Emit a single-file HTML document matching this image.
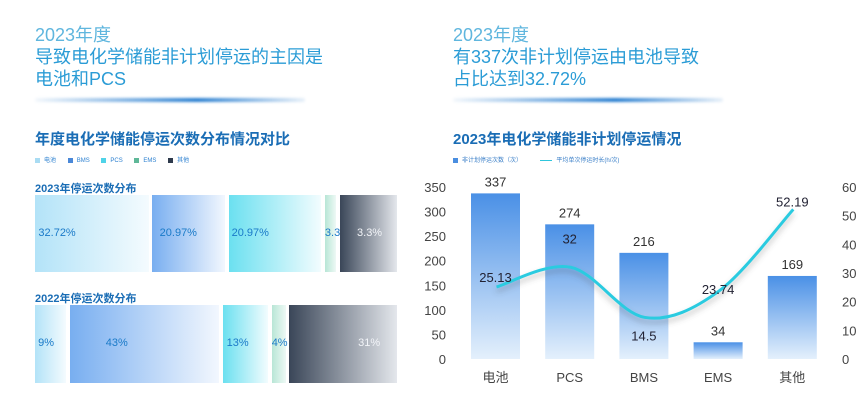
<!DOCTYPE html>
<html><head><meta charset="utf-8"><style>
body{margin:0;width:865px;height:405px;background:#fff;font-family:"Liberation Sans","Noto Sans CJK SC",sans-serif;overflow:hidden;position:relative}
.a{position:absolute;white-space:nowrap}
.h1{font-size:18px;color:#5fb6de;line-height:22px}
.h2{font-size:18px;color:#2b9cd6;line-height:22px}
.glow{position:absolute;height:4px;border-radius:2px;background:linear-gradient(90deg,rgba(40,120,200,0.05),#2a7fd0 60%,rgba(40,120,200,0.1));filter:blur(1.2px)}
.st{font-size:15px;font-weight:bold;color:#1a6db5}
.lg{font-size:6px;color:#2a7fd0}
.sw{display:inline-block;width:5px;height:5px;margin-right:4px;vertical-align:middle}
.rt{font-size:11px;font-weight:bold;color:#1a6db5}
</style></head><body>
<div class="a h1" style="left:35px;top:24px">2023年度</div>
<div class="a h2" style="left:35px;top:46px">导致电化学储能非计划停运的主因是</div>
<div class="a h2" style="left:35px;top:68px">电池和PCS</div>
<div class="glow" style="left:35px;top:98px;width:270px"></div>
<div class="a h1" style="left:453px;top:24px">2023年度</div>
<div class="a h2" style="left:453px;top:46px">有337次非计划停运由电池导致</div>
<div class="a h2" style="left:453px;top:68px">占比达到32.72%</div>
<div class="glow" style="left:453px;top:98px;width:270px"></div>

<div class="a st" style="left:35px;top:128px">年度电化学储能停运次数分布情况对比</div>
<div class="a lg" style="left:35px;top:155px">
<span><i class="sw" style="background:#a9dcf3"></i>电池</span>&nbsp;&nbsp;&nbsp;&nbsp;&nbsp;&nbsp;
<span><i class="sw" style="background:#4a88d8"></i>BMS</span>&nbsp;&nbsp;&nbsp;&nbsp;&nbsp;&nbsp;
<span><i class="sw" style="background:#4fd3e8"></i>PCS</span>&nbsp;&nbsp;&nbsp;&nbsp;&nbsp;&nbsp;
<span><i class="sw" style="background:#5fb898"></i>EMS</span>&nbsp;&nbsp;&nbsp;&nbsp;&nbsp;&nbsp;
<span><i class="sw" style="background:#2e3a4c"></i>其他</span></div>
<div class="a rt" style="left:35px;top:180px">2023年停运次数分布</div>
<div class="a rt" style="left:35px;top:290px">2022年停运次数分布</div>
<div id="stack" class="a" style="left:0;top:0;width:420px;height:405px"></div>

<div class="a st" style="left:453px;top:128px">2023年电化学储能非计划停运情况</div>
<div class="a lg" style="left:453px;top:155px;color:#3a7fc8">
<span><i class="sw" style="background:#4a8ee0"></i>非计划停运次数（次）</span>&nbsp;&nbsp;&nbsp;&nbsp;&nbsp;&nbsp;&nbsp;&nbsp;&nbsp;&nbsp;
<span><i class="sw" style="background:#2fc6dc;height:1.5px;width:12px"></i>平均单次停运时长(h/次)</span></div>
<svg id="bar" class="a" style="left:0;top:0" width="865" height="405">
<defs>
<linearGradient id="bg" x1="0" y1="0" x2="0" y2="1"><stop offset="0" stop-color="#4a90e6"/><stop offset="1" stop-color="#e4f0fc"/></linearGradient>
<filter id="sh"><feDropShadow dx="0" dy="4" stdDeviation="3" flood-color="#555" flood-opacity="0.35"/></filter>
</defs>
</svg>
<script>
// stacked rows (2023 segment widths follow outage counts: 电池, BMS, PCS, EMS, 其他)
var stackCats=["电池","BMS","PCS","EMS","其他"];
var share2023=[337,216,274,34,169];
var share2022=[9,43,13,4,31];
var lbl2023=["32.72%","20.97%","20.97%","3.3%","3.3%"];
var lbl2022=["9%","43%","13%","4%","31%"];
var grads=[["#b3e3f8","#f4fbfe"],["#78aef0","#f2f7fe"],["#6be0f0","#f2fcfe"],["#b8e6d6","#eef9f5"],["#3a4658","#e4e7ec"]];
function drawRow(vals,labels,top,h,name,offs){
  var st=document.getElementById('stack');
  var x0=35,x1=397,gap=3.5,sum=vals.reduce(function(a,b){return a+b},0);
  var avail=x1-x0-gap*(vals.length-1),x=x0;
  vals.forEach(function(v,i){
    var w=v/sum*avail;
    var d=document.createElement('div');
    
    
    d.className='a';
    d.style.cssText='left:'+x+'px;top:'+top+'px;width:'+w+'px;height:'+h+'px;background:linear-gradient(90deg,'+grads[i][0]+','+grads[i][1]+');';
    st.appendChild(d);
    var t=document.createElement('div');
    
    
    t.className='a';t.textContent=labels[i];
    var cx=x+w*offs[i];
    t.style.cssText='left:'+cx+'px;top:'+(top+h/2-7)+'px;font-size:11px;color:'+(i==4&&w>40?'#f2f4f8':(i==4?'#333':'#1a7ac8'));
    st.appendChild(t);
    x+=w+gap;
  });
}
drawRow(share2023,lbl2023,195,77,'row-2023',[0.03,0.1,0.03,0.0,0.3]);
drawRow(share2022,lbl2022,305,78,'row-2022',[0.1,0.24,0.08,0.0,0.64]);

// bar + line chart
var cats=["电池","PCS","BMS","EMS","其他"];
var counts=[337,274,216,34,169];
var durations=[25.13,32,14.5,23.74,52.19];
var leftTicks=[0,50,100,150,200,250,300,350];
var rightTicks=[0,10,20,30,40,50,60];
var svg=document.getElementById('bar'),NS="http://www.w3.org/2000/svg";
function yL(v){return 359-v/350*172;}
function yR(v){return 359-v/60*172;}
function xC(i){return 495.5+i*74.2;}
function el(tag,attrs,txt){var e=document.createElementNS(NS,tag);for(var k in attrs)e.setAttribute(k,attrs[k]);if(txt!=null)e.textContent=txt;svg.appendChild(e);return e;}
leftTicks.forEach(function(v){var t=el('text',{x:446,y:yL(v)+5,'text-anchor':'end','font-size':13,fill:'#444'},v);

});
rightTicks.forEach(function(v){var t=el('text',{x:842,y:yR(v)+5,'font-size':13,fill:'#444'},v);

});
counts.forEach(function(v,i){
  var r=el('rect',{x:xC(i)-24.5,y:yL(v),width:49,height:359-yL(v),fill:'url(#bg)'});
  
  
  var t=el('text',{x:xC(i),y:yL(v)-7,'text-anchor':'middle','font-size':13,fill:'#333'},v);
  
  
  var c=el('text',{x:xC(i),y:382,'text-anchor':'middle','font-size':13,fill:'#444'},cats[i]);
  
  
});
var pts=durations.map(function(v,i){return [xC(i)+1,yR(v)];});
var d='M'+pts[0][0]+','+pts[0][1];
for(var i=0;i<pts.length-1;i++){
  var p0=pts[Math.max(0,i-1)],p1=pts[i],p2=pts[i+1],p3=pts[Math.min(pts.length-1,i+2)];
  d+=' C'+(p1[0]+(p2[0]-p0[0])/6)+','+(p1[1]+(p2[1]-p0[1])/6)+' '+(p2[0]-(p3[0]-p1[0])/6)+','+(p2[1]-(p3[1]-p1[1])/6)+' '+p2[0]+','+p2[1];
}
var line=el('path',{d:d,fill:'none',stroke:'#2ccbe0','stroke-width':3,filter:'url(#sh)'});


var off=[[0,-10],[0,-29],[0,18],[0,-2],[0,-8]];
durations.forEach(function(v,i){
  var t=el('text',{x:xC(i)+off[i][0],y:yR(v)+off[i][1]+5,'text-anchor':'middle','font-size':13,fill:'#223'},v);
  
  
});
</script>
</body></html>
